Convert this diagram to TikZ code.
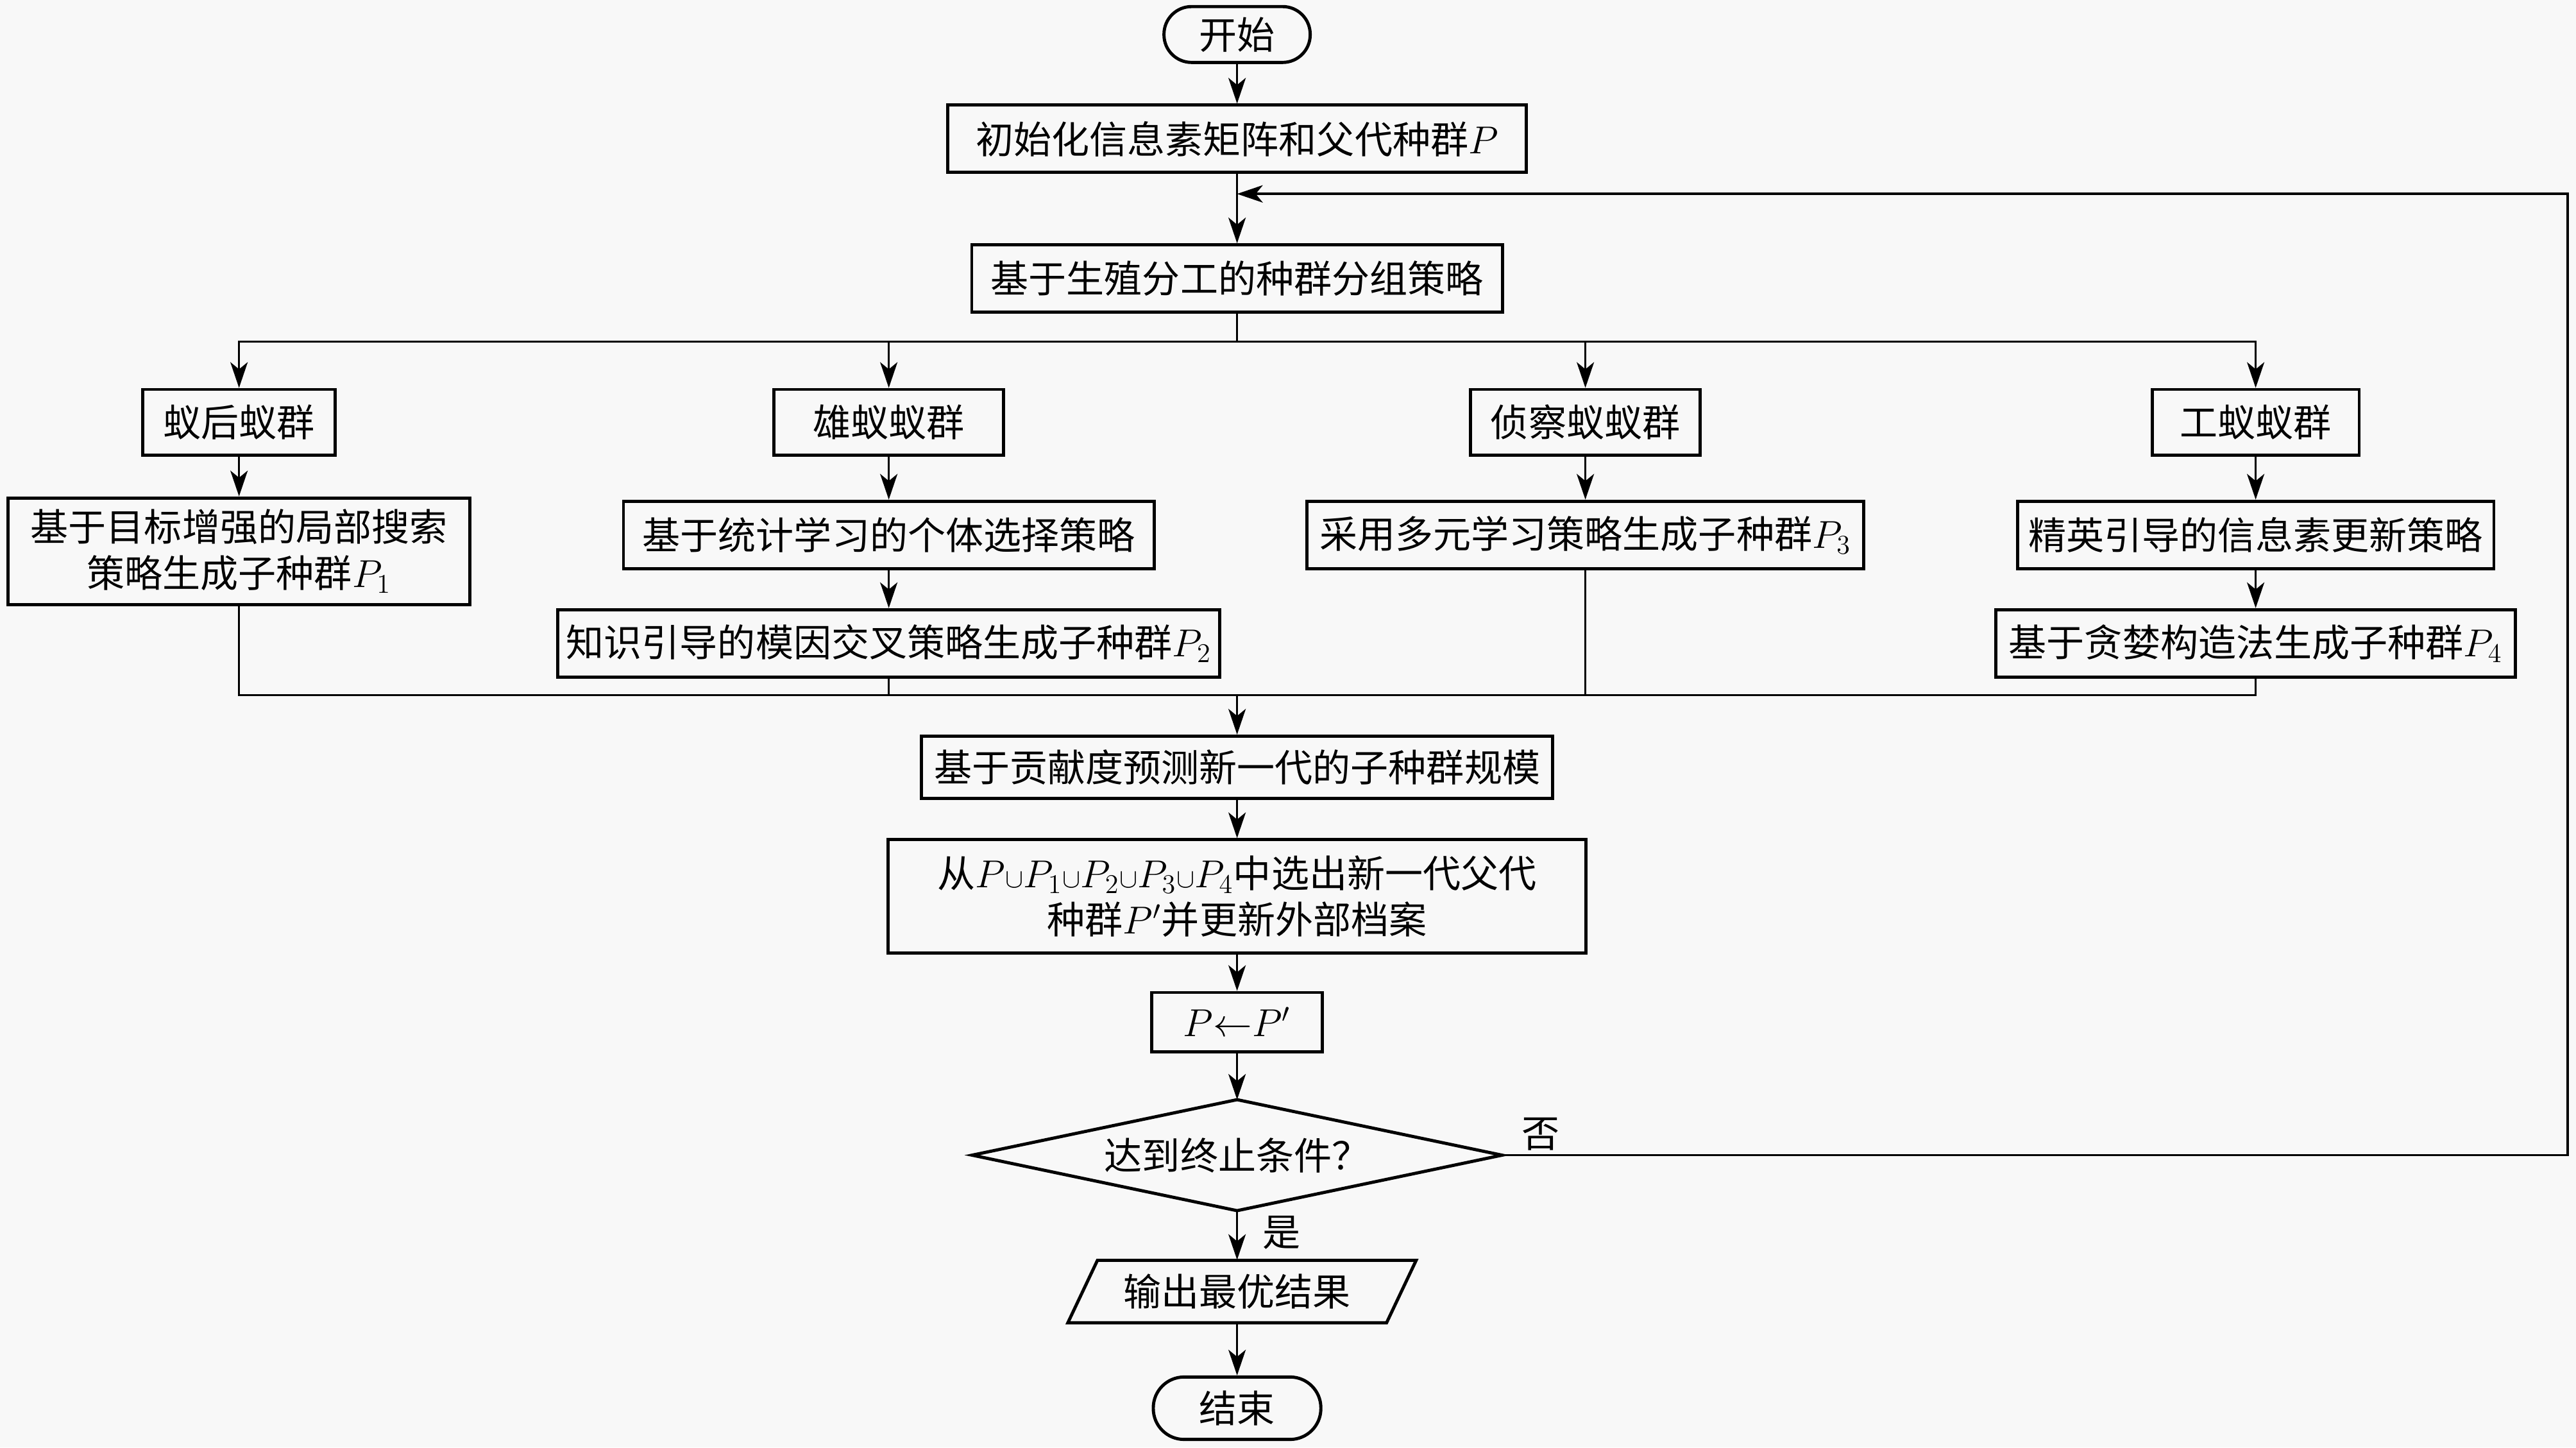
\documentclass[tikz,border=0pt]{standalone}
\usepackage{fontspec}
\setmainfont{Liberation Serif}
\newfontfamily\cjk{Noto Sans CJK SC}
\usetikzlibrary{shapes.geometric,arrows.meta}
\definecolor{bg}{HTML}{F8F8F8}
\begin{document}
\begin{tikzpicture}[x=0.02561cm,y=-0.02561cm,
 sz/.style 2 args={minimum width=#1*0.02561cm, minimum height=#2*0.02561cm},
 base/.style={inner sep=0pt, font=\cjk\fontsize{16.8}{20.4}\selectfont, align=center},
 box/.style={base, draw, line width=1.4pt, fill=bg, rectangle},
 term/.style={box, rounded corners=#1},
 arr/.style={line width=1pt, -{Stealth[length=0.4cm,width=0.27cm,inset=0.11cm]}},
 ln/.style={line width=1pt}]
\useasboundingbox (0,0) rectangle (1568,881);
\fill[bg] (0,0) rectangle (1568,881);

% main column
\node[term=0.43cm, sz={89}{34}] (start) at (753,21) {开始};
\node[box, sz={352}{41}] (init) at (753,84.5) {初始化信息素矩阵和父代种群$P$};
\node[box, sz={323}{41}] (group) at (753,169.5) {基于生殖分工的种群分组策略};

% group boxes
\node[box, sz={117}{40}] (q) at (145.5,257) {蚁后蚁群};
\node[box, sz={140}{40}] (m) at (541,257) {雄蚁蚁群};
\node[box, sz={140}{40}] (s) at (965,257) {侦察蚁蚁群};
\node[box, sz={126}{40}] (w) at (1373,257) {工蚁蚁群};

% strategy boxes
\node[box, sz={281}{65}] (q2) at (145.5,335.5) {基于目标增强的局部搜索\\策略生成子种群$P_1$};
\node[box, sz={323}{41}] (m2) at (541,325.5) {基于统计学习的个体选择策略};
\node[box, sz={339}{41}] (s2) at (965,325.5) {采用多元学习策略生成子种群$P_3$};
\node[box, sz={290}{41}] (w2) at (1373,325.5) {精英引导的信息素更新策略};
\node[box, sz={403}{41}] (m3) at (541,391.5) {知识引导的模因交叉策略生成子种群$P_2$};
\node[box, sz={316}{41}] (w3) at (1373,391.5) {基于贪婪构造法生成子种群$P_4$};

\node[box, sz={384}{38}] (pred) at (753,467) {基于贡献度预测新一代的子种群规模};
\node[box, sz={425}{69}] (sel) at (753,545.5) {从$P{\scriptstyle\cup}P_1{\scriptstyle\cup}P_2{\scriptstyle\cup}P_3{\scriptstyle\cup}P_4$中选出新一代父代\\种群$P'$并更新外部档案};
\node[box, sz={104}{36}] (upd) at (753,622) {$P{\leftarrow}P'$};
\node[base, sz={322}{67}] (dia) at (753,703) {达到终止条件？};
\draw[line width=1.4pt] (dia.north) -- (dia.east) -- (dia.south) -- (dia.west) -- cycle;
\draw[line width=1.4pt, fill=bg] (668,767) -- (862,767) -- (844,805) -- (650,805) -- cycle;
\node[base, sz={212}{38}] (out) at (753,786) {输出最优结果};
\node[term=0.48cm, sz={102}{38}] (end) at (753,857) {结束};

% coordinates
\coordinate (fb) at (753,118);
\coordinate (split) at (753,208);
\coordinate (join) at (753,423);
\coordinate (rt) at (1563,703);
\coordinate (rtop) at (1563,118);

% connectors
\draw[arr] (start) -- (init);
\draw[arr] (init) -- (group);
\draw[ln] (group) -- (split);
\draw[arr] (split) -| (q);
\draw[arr] (split) -| (m);
\draw[arr] (split) -| (s);
\draw[arr] (split) -| (w);
\draw[arr] (q) -- (q2);
\draw[arr] (m) -- (m2);
\draw[arr] (m2) -- (m3);
\draw[arr] (s) -- (s2);
\draw[arr] (w) -- (w2);
\draw[arr] (w2) -- (w3);
\draw[ln] (q2) |- (join);
\draw[ln] (m3) |- (join);
\draw[ln] (s2) |- (join);
\draw[ln] (w3) |- (join);
\draw[arr] (join) -- (pred);
\draw[arr] (pred) -- (sel);
\draw[arr] (sel) -- (upd);
\draw[arr] (upd) -- (dia.north);
\draw[arr] (dia.south) -- (out);
\draw[arr] (out) -- (end);
\draw[arr] (dia.east) -- (rt) -- (rtop) -- (fb);

% labels
\node[base] (no) at (938,690) {否};
\node[base] (yes) at (780,750) {是};
\end{tikzpicture}
\end{document}
